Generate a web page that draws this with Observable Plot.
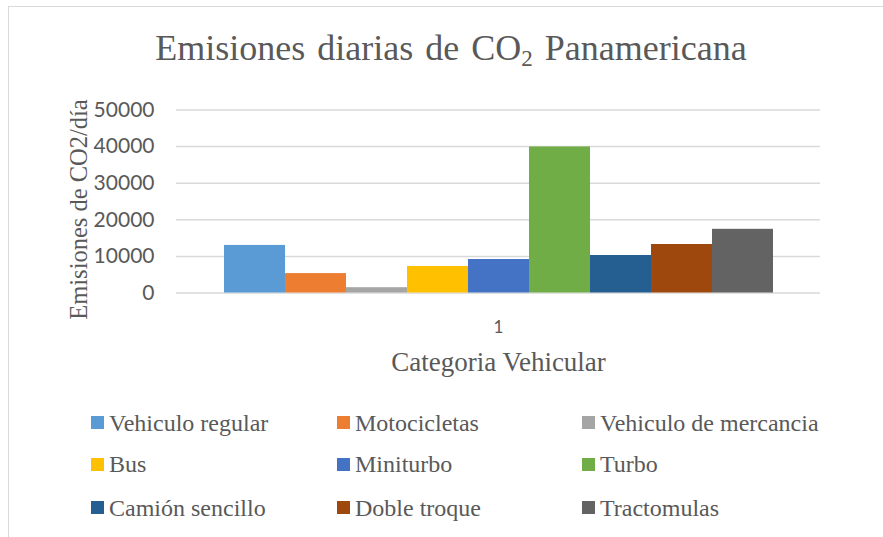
<!DOCTYPE html>
<html>
<head>
<meta charset="utf-8">
<script src="https://cdn.jsdelivr.net/npm/d3@7"></script>
<script src="https://cdn.jsdelivr.net/npm/@observablehq/plot@0.6"></script>
<style>
  html, body { margin: 0; padding: 0; background: #fff; }
  body { width: 883px; height: 537px; overflow: hidden; position: relative; }
  #frame { position: absolute; left: 8px; top: 6px; width: 900px; height: 560px;
           border-top: 1px solid #d9d9d9; border-left: 1px solid #d9d9d9; box-sizing: border-box; }
  #title { position: absolute; left: 0; top: 30.7px; width: 902px; text-align: center;
           font-family: "Liberation Serif", "Times New Roman", serif; font-size: 36px; line-height: 35px;
           color: #595959; word-spacing: 3px; white-space: nowrap; }
  #title sub { font-size: 23px; vertical-align: -6px; line-height: 0; }
  #chart { position: absolute; left: 0; top: 80px; }
  .leg { position: absolute; display: flex; align-items: center; height: 28px;
         font-family: "Liberation Serif", "Times New Roman", serif; font-size: 24px; line-height: 28px;
         color: #595959; white-space: nowrap; }
  .leg .sw { width: 13px; height: 13px; margin-right: 5px; flex: none; }
</style>
</head>
<body>
<div id="frame"></div>
<div id="title">Emisiones diarias de CO<sub>2</sub> Panamericana</div>
<div id="chart"></div>
<div id="legend"></div>
<script>
const categories = ["1"];
const series = ["Vehiculo regular", "Motocicletas", "Vehiculo de mercancia", "Bus", "Miniturbo", "Turbo", "Camión sencillo", "Doble troque", "Tractomulas"];
const values = [13000, 5300, 1450, 7250, 9150, 39900, 10250, 13250, 17400];
const colors = ["#5B9BD5", "#ED7D31", "#A5A5A5", "#FFC000", "#4472C4", "#70AD47", "#255E91", "#9E480E", "#636363"];
const yTicks = [0, 10000, 20000, 30000, 40000, 50000];
const yLabel = "Emisiones de CO2/día";
const xLabel = "Categoria Vehicular";

const data = series.map((s, i) => ({categoria: categories[0], serie: s, valor: values[i]}));

const serif = "Liberation Serif, Times New Roman, serif";
const sans = "Lato, sans-serif";
const textColor = "#595959";

const chart = Plot.plot({
  width: 883,
  height: 320,
  marginLeft: 176,
  marginRight: 63,
  marginTop: 29.5,
  marginBottom: 107.5,
  style: {background: "transparent", overflow: "visible"},
  fx: {domain: categories, padding: 0},
  x: {domain: series, paddingInner: 0, paddingOuter: 0.76, axis: null},
  y: {domain: [0, 50000], ticks: yTicks},
  color: {domain: series, range: colors},
  marks: [
    Plot.gridY(yTicks, {stroke: "#d9d9d9", strokeOpacity: 1, strokeWidth: 1.5}),
    Plot.barY(data, {fx: "categoria", x: "serie", y: "valor", fill: "serie"}),
    Plot.axisY(yTicks, {tickSize: 0, tickPadding: 22, label: null, fontFamily: sans, fontSize: 21, color: textColor, tickFormat: d => String(d)}),
    Plot.text([yLabel], {frameAnchor: "left", textAnchor: "middle", rotate: -90, dx: -97, dy: 8, fontFamily: serif, fontSize: 24.5, fill: textColor}),
    Plot.axisFx({anchor: "bottom", tickSize: 0, tickPadding: 27.5, label: null, fontFamily: sans, fontSize: 17, color: textColor}),
    Plot.axisFx([], {anchor: "bottom", label: xLabel, labelAnchor: "center", labelOffset: 78, fontFamily: serif, fontSize: 27, color: textColor})
  ]
});
document.getElementById("chart").appendChild(chart);

// legend (row-major, 3 columns)
const colLeft = [91, 337, 582];
const rowCenter = [422.5, 464, 507.5];
const legend = document.getElementById("legend");
series.forEach((s, i) => {
  const item = document.createElement("div");
  item.className = "leg";
  item.style.left = colLeft[i % 3] + "px";
  item.style.top = (rowCenter[Math.floor(i / 3)] - 14) + "px";
  const sw = document.createElement("span");
  sw.className = "sw";
  sw.style.background = colors[i];
  const t = document.createElement("span");
  t.textContent = s;
  item.appendChild(sw);
  item.appendChild(t);
  legend.appendChild(item);
});
</script>
</body>
</html>
